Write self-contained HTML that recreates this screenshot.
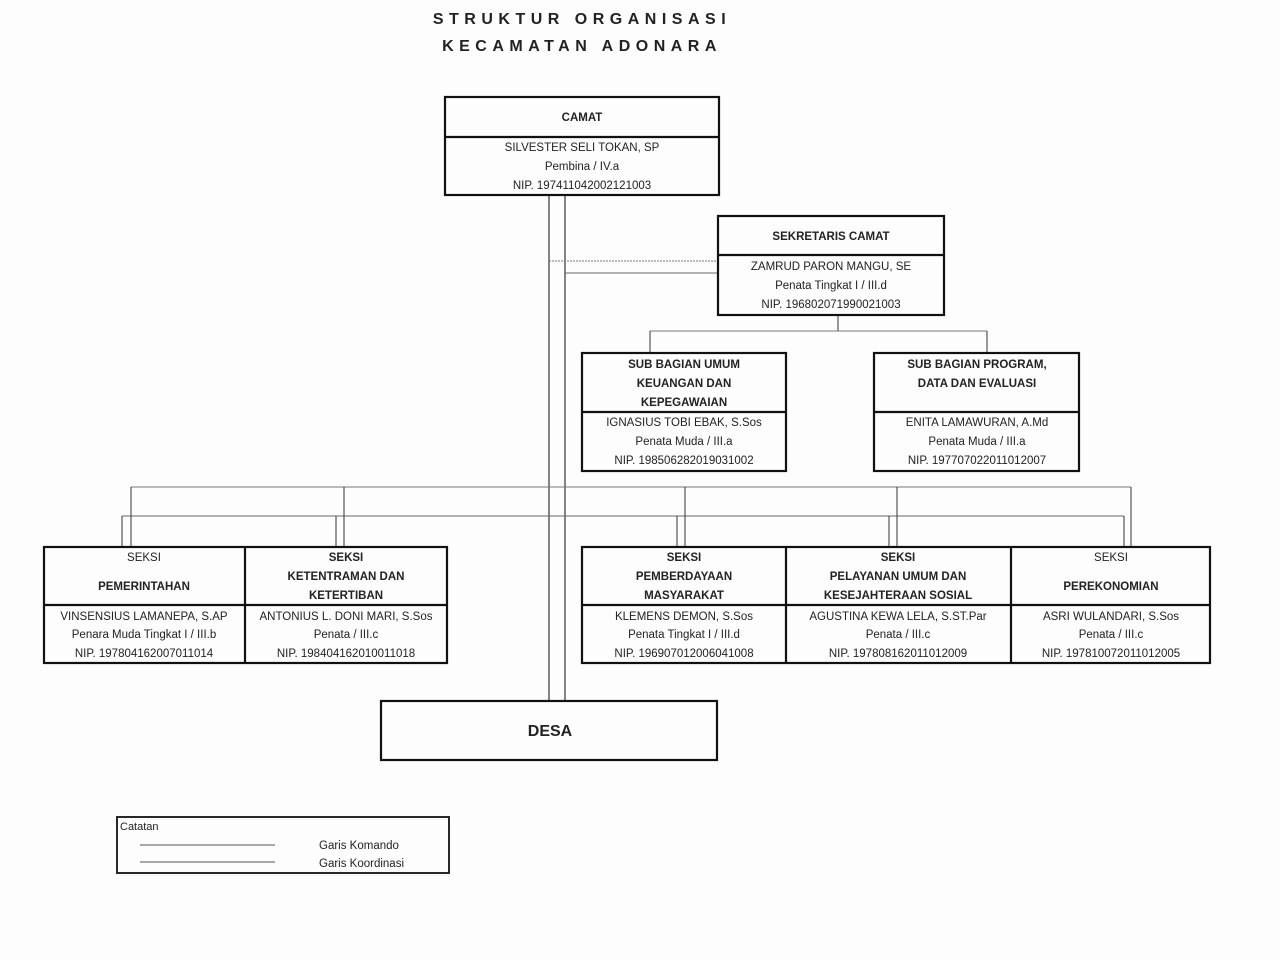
<!DOCTYPE html>
<html><head><meta charset="utf-8"><style>
html,body{margin:0;padding:0;background:#fff;}
svg{display:block;}
text{font-family:"Liberation Sans",sans-serif;fill:#222;}
.h{font-weight:bold;font-size:11.5px;}
.b{font-size:11.5px;}
</style></head><body>
<svg width="1280" height="960" viewBox="0 0 1280 960" xmlns="http://www.w3.org/2000/svg">
<rect width="1280" height="960" fill="#fdfdfd"/>
<text x="582" y="24" text-anchor="middle" font-weight="bold" font-size="16" letter-spacing="5.5">STRUKTUR  ORGANISASI</text>
<text x="582" y="51" text-anchor="middle" font-weight="bold" font-size="16" letter-spacing="5.5">KECAMATAN  ADONARA</text>

<g stroke="#333" fill="none">
<line x1="549" y1="195" x2="549" y2="700" stroke-width="1.2"/>
<line x1="565" y1="195" x2="565" y2="700" stroke-width="1.2"/>
<line x1="549" y1="261" x2="718" y2="261" stroke-dasharray="2,1" stroke="#777"/>
<line x1="565" y1="273" x2="718" y2="273" stroke="#666"/>
<line x1="838" y1="315" x2="838" y2="331"/>
<line x1="650" y1="331" x2="987" y2="331" stroke="#777"/>
<line x1="650" y1="331" x2="650" y2="353"/>
<line x1="987" y1="331" x2="987" y2="353"/>
<line x1="131" y1="487" x2="1131" y2="487" stroke="#777"/>
<line x1="122" y1="516" x2="1124" y2="516" stroke="#666"/>
<line x1="131" y1="487" x2="131" y2="547"/>
<line x1="344" y1="487" x2="344" y2="547"/>
<line x1="685" y1="487" x2="685" y2="547"/>
<line x1="897" y1="487" x2="897" y2="547"/>
<line x1="1131" y1="487" x2="1131" y2="547"/>
<line x1="122" y1="516" x2="122" y2="547"/>
<line x1="336" y1="516" x2="336" y2="547"/>
<line x1="677" y1="516" x2="677" y2="547"/>
<line x1="889" y1="516" x2="889" y2="547"/>
<line x1="1124" y1="516" x2="1124" y2="547"/>

<g stroke="#111" stroke-width="2.2">
<rect x="445" y="97" width="274" height="98"/>
<line x1="445" y1="137" x2="719" y2="137"/>
<rect x="718" y="216" width="226" height="99"/>
<line x1="718" y1="255" x2="944" y2="255"/>
<rect x="582" y="353" width="204" height="118"/>
<line x1="582" y1="412" x2="786" y2="412"/>
<rect x="874" y="353" width="205" height="118"/>
<line x1="874" y1="412" x2="1079" y2="412"/>
<rect x="44" y="547" width="403" height="116"/>
<line x1="245" y1="547" x2="245" y2="663"/>
<line x1="44" y1="605" x2="447" y2="605"/>
<rect x="582" y="547" width="628" height="116"/>
<line x1="786" y1="547" x2="786" y2="663"/>
<line x1="1011" y1="547" x2="1011" y2="663"/>
<line x1="582" y1="605" x2="1210" y2="605"/>
<rect x="381" y="701" width="336" height="59"/>
<rect x="117" y="817" width="332" height="56" stroke-width="1.8"/>
</g>
<line x1="140" y1="845" x2="275" y2="845" stroke="#555"/>
<line x1="140" y1="862" x2="275" y2="862" stroke="#555"/>
</g>

<g text-anchor="middle">
<text x="582" y="121" class="h">CAMAT</text>
<text x="582" y="151" class="b">SILVESTER SELI TOKAN, SP</text>
<text x="582" y="170" class="b">Pembina / IV.a</text>
<text x="582" y="189" class="b">NIP. 197411042002121003</text>

<text x="831" y="240" class="h">SEKRETARIS CAMAT</text>
<text x="831" y="270" class="b">ZAMRUD PARON MANGU, SE</text>
<text x="831" y="289" class="b">Penata Tingkat I / III.d</text>
<text x="831" y="308" class="b">NIP. 196802071990021003</text>

<text x="684" y="368" class="h">SUB BAGIAN UMUM</text>
<text x="684" y="387" class="h">KEUANGAN DAN</text>
<text x="684" y="406" class="h">KEPEGAWAIAN</text>
<text x="684" y="426" class="b">IGNASIUS  TOBI EBAK, S.Sos</text>
<text x="684" y="445" class="b">Penata Muda / III.a</text>
<text x="684" y="464" class="b">NIP. 198506282019031002</text>

<text x="977" y="368" class="h">SUB BAGIAN PROGRAM,</text>
<text x="977" y="387" class="h">DATA DAN EVALUASI</text>
<text x="977" y="426" class="b">ENITA LAMAWURAN, A.Md</text>
<text x="977" y="445" class="b">Penata Muda / III.a</text>
<text x="977" y="464" class="b">NIP. 197707022011012007</text>

<text x="144" y="561" class="b">SEKSI</text>
<text x="144" y="590" class="h">PEMERINTAHAN</text>
<text x="144" y="620" class="b">VINSENSIUS LAMANEPA, S.AP</text>
<text x="144" y="638" class="b">Penara Muda Tingkat I / III.b</text>
<text x="144" y="657" class="b">NIP. 197804162007011014</text>

<text x="346" y="561" class="h">SEKSI</text>
<text x="346" y="580" class="h">KETENTRAMAN DAN</text>
<text x="346" y="599" class="h">KETERTIBAN</text>
<text x="346" y="620" class="b">ANTONIUS L. DONI MARI, S.Sos</text>
<text x="346" y="638" class="b">Penata / III.c</text>
<text x="346" y="657" class="b">NIP. 198404162010011018</text>

<text x="684" y="561" class="h">SEKSI</text>
<text x="684" y="580" class="h">PEMBERDAYAAN</text>
<text x="684" y="599" class="h">MASYARAKAT</text>
<text x="684" y="620" class="b">KLEMENS DEMON, S.Sos</text>
<text x="684" y="638" class="b">Penata Tingkat I / III.d</text>
<text x="684" y="657" class="b">NIP. 196907012006041008</text>

<text x="898" y="561" class="h">SEKSI</text>
<text x="898" y="580" class="h">PELAYANAN UMUM DAN</text>
<text x="898" y="599" class="h">KESEJAHTERAAN SOSIAL</text>
<text x="898" y="620" class="b">AGUSTINA KEWA LELA, S.ST.Par</text>
<text x="898" y="638" class="b">Penata / III.c</text>
<text x="898" y="657" class="b">NIP. 197808162011012009</text>

<text x="1111" y="561" class="b">SEKSI</text>
<text x="1111" y="590" class="h">PEREKONOMIAN</text>
<text x="1111" y="620" class="b">ASRI WULANDARI, S.Sos</text>
<text x="1111" y="638" class="b">Penata / III.c</text>
<text x="1111" y="657" class="b">NIP. 197810072011012005</text>

<text x="550" y="736" font-weight="bold" font-size="16">DESA</text>
</g>
<text x="120" y="830" font-size="11" fill="#555">Catatan</text>
<text x="319" y="849" font-size="11.5">Garis Komando</text>
<text x="319" y="867" font-size="11.5">Garis Koordinasi</text>
</svg>
</body></html>
